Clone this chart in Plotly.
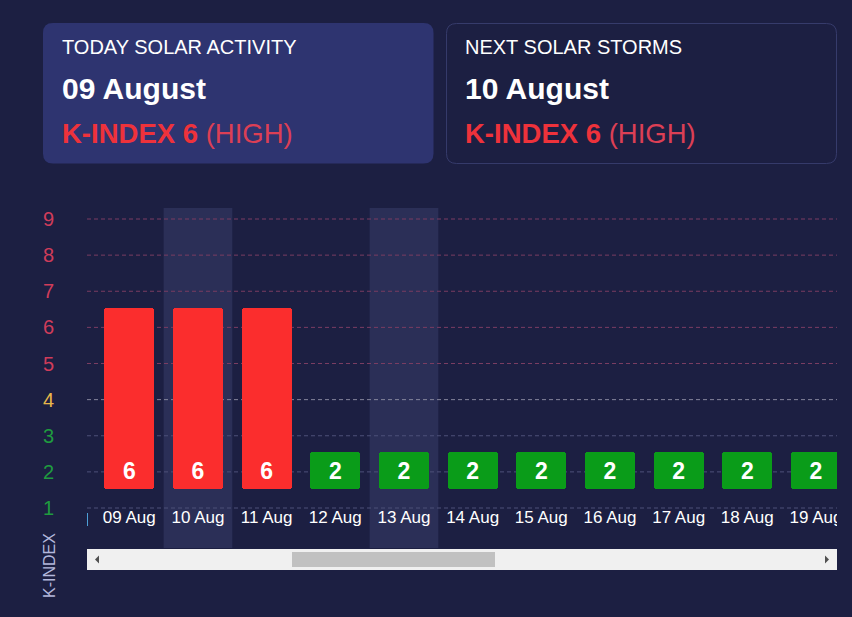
import plotly.graph_objects as go

# ---- data ----
dates = ["09 Aug", "10 Aug", "11 Aug", "12 Aug", "13 Aug", "14 Aug",
         "15 Aug", "16 Aug", "17 Aug", "18 Aug", "19 Aug"]
kindex = [6, 6, 6, 2, 2, 2, 2, 2, 2, 2, 2]
highlighted = ["10 Aug", "13 Aug"]
y_ticks = [1, 2, 3, 4, 5, 6, 7, 8, 9]

today_title = "TODAY SOLAR ACTIVITY"
today_date = "09 August"
today_k = 6
next_title = "NEXT SOLAR STORMS"
next_date = "10 August"
next_k = 6
level_word = "(HIGH)"

# ---- styling ----
W, H = 852, 617
BG = "#1c1f42"
FONT = "Liberation Sans, Arial, sans-serif"
RED = "#fb2d2d"
GREEN = "#0a9c19"


def px(x):
    return x / W


def py(y):
    return 1 - y / H


def bar_color(v):
    return RED if v >= 5 else GREEN


def tick_color(v):
    if v >= 5:
        return "#d03c5a"
    if v == 4:
        return "#e6b64a"
    return "#1f9b3f"


def grid_color(v):
    if v >= 5:
        return "#7a3d62"
    if v == 4:
        return "#85859c"
    return "#4d5179"


def rrect(x0, y0, x1, y1, r):
    X = lambda v: f"{px(v):.5f}"
    Y = lambda v: f"{py(v):.5f}"
    return (f"M {X(x0 + r)},{Y(y0)} L {X(x1 - r)},{Y(y0)} Q {X(x1)},{Y(y0)} {X(x1)},{Y(y0 + r)} "
            f"L {X(x1)},{Y(y1 - r)} Q {X(x1)},{Y(y1)} {X(x1 - r)},{Y(y1)} "
            f"L {X(x0 + r)},{Y(y1)} Q {X(x0)},{Y(y1)} {X(x0)},{Y(y1 - r)} "
            f"L {X(x0)},{Y(y0 + r)} Q {X(x0)},{Y(y0)} {X(x0 + r)},{Y(y0)} Z")


BAR_BASE = 1.53
BAR_EXTRA = 0.55

fig = go.Figure()
fig.add_trace(go.Bar(
    x=dates,
    y=[v + BAR_EXTRA - BAR_BASE for v in kindex],
    base=BAR_BASE,
    width=0.728,
    marker=dict(color=[bar_color(v) for v in kindex], cornerradius=3, line=dict(width=0)),
    hoverinfo="skip",
))
fig.add_trace(go.Scatter(
    x=dates, y=[1.97] * len(dates), mode="text",
    text=[f"<b>{v}</b>" for v in kindex],
    textfont=dict(family=FONT, size=23, color="white"),
    hoverinfo="skip",
))
fig.add_trace(go.Scatter(
    x=dates, y=[0.695] * len(dates), mode="text",
    text=dates,
    textfont=dict(family=FONT, size=17, color="white"),
    hoverinfo="skip",
))

shapes = []
# highlighted columns
for d in highlighted:
    i = dates.index(d)
    shapes.append(dict(type="rect", xref="x", yref="y domain", x0=i - 0.5, x1=i + 0.5,
                       y0=0, y1=1, fillcolor="#2b2f57", line=dict(width=0), layer="below"))
# grid lines
for v in y_ticks:
    shapes.append(dict(type="line", xref="x domain", yref="y", x0=0, x1=1, y0=v, y1=v,
                       line=dict(color=grid_color(v), width=1, dash="4px,3px"), layer="below"))
# cards
shapes.append(dict(type="path", xref="paper", yref="paper", path=rrect(43, 23, 433.5, 163.5, 10),
                   fillcolor="#2e3470", line=dict(width=0), layer="below"))
shapes.append(dict(type="path", xref="paper", yref="paper", path=rrect(446.5, 23.5, 836.5, 163.5, 10),
                   fillcolor=BG, line=dict(width=1, color="#363b6b"), layer="below"))
# small tick at axis start
shapes.append(dict(type="line", xref="paper", yref="paper", x0=px(87.5), x1=px(87.5), y0=py(513), y1=py(526),
                   line=dict(color="#4d9fd6", width=1)))
# scrollbar
shapes.append(dict(type="rect", xref="paper", yref="paper", x0=px(87), x1=px(837), y0=py(570), y1=py(549),
                   fillcolor="#f0f0f0", line=dict(width=0)))
shapes.append(dict(type="rect", xref="paper", yref="paper", x0=px(292), x1=px(495), y0=py(567), y1=py(552),
                   fillcolor="#c1c1c1", line=dict(width=0)))
shapes.append(dict(type="path", xref="paper", yref="paper",
                   path=f"M {px(95):.5f},{py(559.5):.5f} L {px(99):.5f},{py(555.5):.5f} L {px(99):.5f},{py(563.5):.5f} Z",
                   fillcolor="#505050", line=dict(width=0)))
shapes.append(dict(type="path", xref="paper", yref="paper",
                   path=f"M {px(829):.5f},{py(559.5):.5f} L {px(825):.5f},{py(555.5):.5f} L {px(825):.5f},{py(563.5):.5f} Z",
                   fillcolor="#505050", line=dict(width=0)))

annotations = []


def card_text(x, title, date, k):
    annotations.append(dict(xref="paper", yref="paper", x=px(x), y=py(47), xanchor="left", yanchor="middle",
                            text=title, showarrow=False, font=dict(family=FONT, size=20, color="white")))
    annotations.append(dict(xref="paper", yref="paper", x=px(x), y=py(88), xanchor="left", yanchor="middle",
                            text=f"<b>{date}</b>", showarrow=False, font=dict(family=FONT, size=30, color="white")))
    annotations.append(dict(xref="paper", yref="paper", x=px(x), y=py(133), xanchor="left", yanchor="middle",
                            text=f"<b>K-INDEX {k}</b> <span style='color:#dc3f55'>{level_word}</span>",
                            showarrow=False, font=dict(family=FONT, size=27.5, color="#ee323b")))


card_text(60, today_title, today_date, today_k)
card_text(463, next_title, next_date, next_k)

annotations.append(dict(xref="paper", yref="paper", x=px(49), y=py(566), xanchor="center", yanchor="middle",
                        text="K-INDEX", textangle=-90, showarrow=False,
                        font=dict(family=FONT, size=16, color="#b3b7dc")))

fig.update_layout(
    width=W, height=H,
    margin=dict(l=0, r=0, t=0, b=0),
    paper_bgcolor=BG, plot_bgcolor="rgba(0,0,0,0)",
    showlegend=False,
    shapes=shapes,
    annotations=annotations,
    bargap=0,
    xaxis=dict(domain=[px(87), px(837)], range=[-0.616, 10.306], type="category",
               showticklabels=False, showgrid=False, zeroline=False, showline=False,
               fixedrange=True, automargin=False),
    yaxis=dict(domain=[py(548), py(208)], range=[1 - 40 / 36.125, 9 + 11 / 36.125],
               tickvals=y_ticks,
               ticktext=[f"<span style='color:{tick_color(v)}'>{v}</span>" for v in y_ticks],
               tickfont=dict(family=FONT, size=20),
               ticklabelstandoff=32,
               showgrid=False, zeroline=False, showline=False, fixedrange=True, automargin=False),
)

fig.write_html("out.html")
